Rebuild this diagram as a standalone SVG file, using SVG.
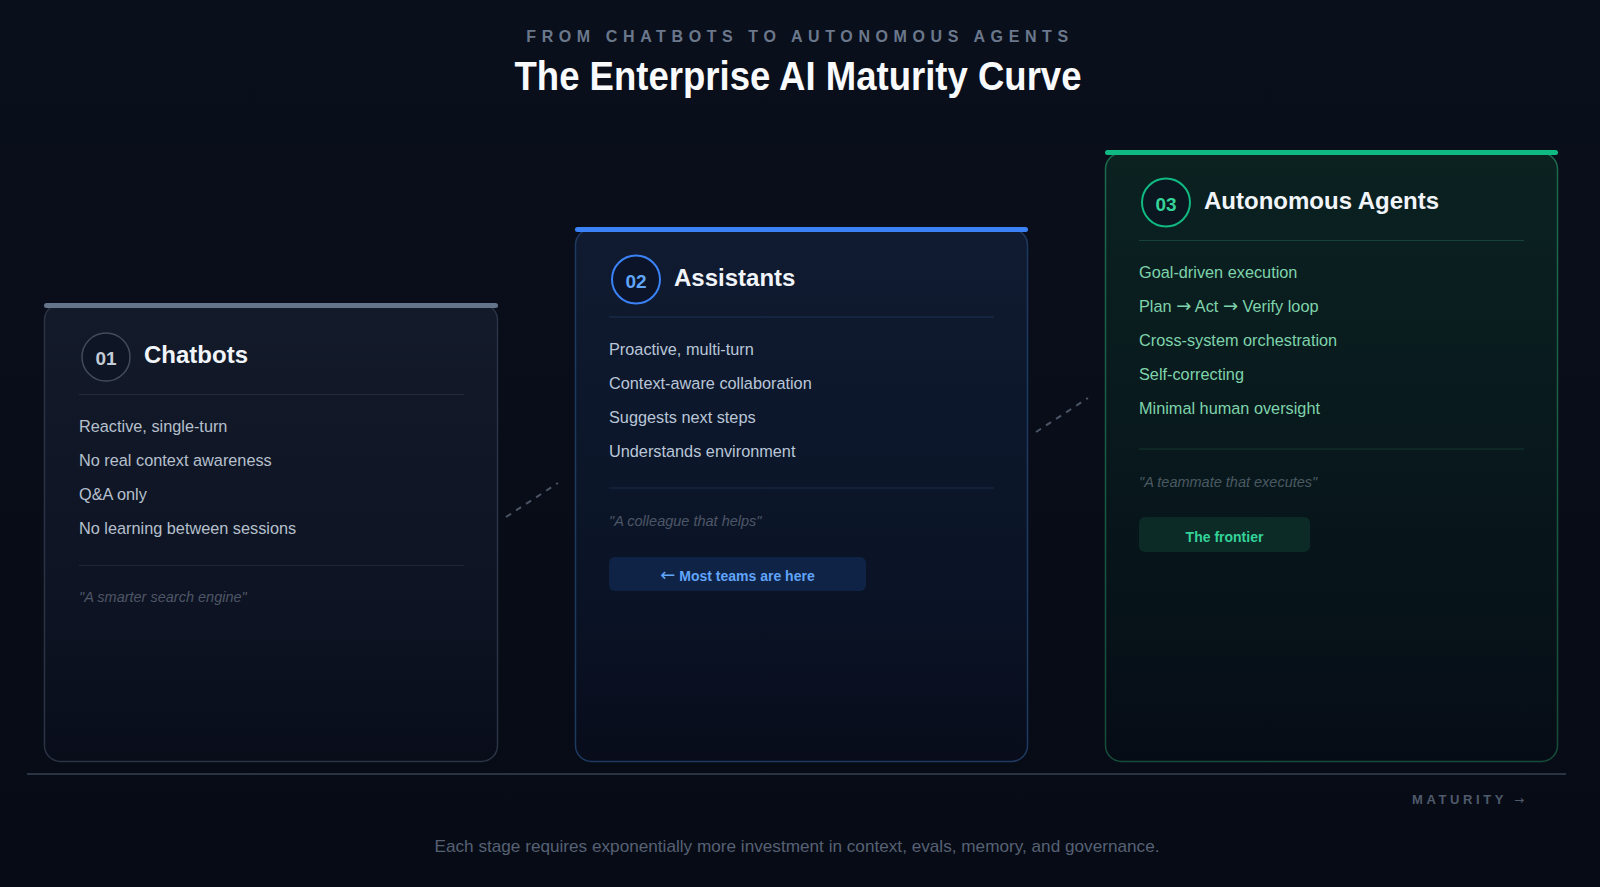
<svg xmlns="http://www.w3.org/2000/svg" width="1600" height="887" viewBox="0 0 1600 887">
<defs>
<linearGradient id="bg" x1="0" y1="0" x2="0" y2="1">
<stop offset="0" stop-color="#0a0f1c"/>
<stop offset="1" stop-color="#070b15"/>
</linearGradient>
<linearGradient id="g1" x1="0" y1="0" x2="0" y2="1">
<stop offset="0" stop-color="#131a2a"/>
<stop offset="0.7" stop-color="#0d1322"/>
<stop offset="1" stop-color="#090d1a"/>
</linearGradient>
<linearGradient id="g2" x1="0" y1="0" x2="0" y2="1">
<stop offset="0" stop-color="#101b31"/>
<stop offset="0.72" stop-color="#0a1325"/>
<stop offset="1" stop-color="#080c1b"/>
</linearGradient>
<linearGradient id="g3" x1="0" y1="0" x2="0" y2="1">
<stop offset="0" stop-color="#0b2221"/>
<stop offset="0.7" stop-color="#07141a"/>
<stop offset="1" stop-color="#060c16"/>
</linearGradient>
<linearGradient id="b3" x1="0" y1="0" x2="0" y2="1">
<stop offset="0" stop-color="#1a6a4b"/>
<stop offset="1" stop-color="#164c3a"/>
</linearGradient>
<style>
.h{font-family:"Liberation Sans",Arial,sans-serif;font-weight:bold;font-size:24px;fill:#f1f5f9}
.num{font-family:"Liberation Sans",Arial,sans-serif;font-weight:bold;font-size:19px;text-anchor:middle}
.it{font-family:"Liberation Sans",Arial,sans-serif;font-size:16.3px}
.ar{font-family:"DejaVu Sans",sans-serif;font-size:18px;font-weight:normal}
.q{font-family:"Liberation Sans",Arial,sans-serif;font-style:italic;font-size:14.5px}
.btn{font-family:"Liberation Sans",Arial,sans-serif;font-weight:bold;font-size:14px;text-anchor:middle}
.dash{stroke:#4b5566;stroke-width:2;stroke-dasharray:6 6;fill:none}
</style>
</defs>
<rect width="1600" height="887" fill="url(#bg)"/>

<g id="header">
<text x="800" y="42" text-anchor="middle" font-family="Liberation Sans, Arial, sans-serif" font-weight="bold" font-size="16" letter-spacing="5.6" fill="#6b788c">FROM CHATBOTS TO AUTONOMOUS AGENTS</text>
<text x="798" y="90" text-anchor="middle" font-family="Liberation Sans, Arial, sans-serif" font-weight="bold" font-size="40" textLength="567" lengthAdjust="spacingAndGlyphs" fill="#f8fafc">The Enterprise AI Maturity Curve</text>
</g>

<g id="connectors">
<line class="dash" x1="506" y1="517" x2="558" y2="483"/>
<line class="dash" x1="1036" y1="432" x2="1088" y2="398"/>
</g>

<g id="stage1">
<rect x="44.5" y="304" width="453" height="457.5" rx="16" fill="url(#g1)" stroke="#2b3344" stroke-width="1.5"/>
<rect x="44" y="303" width="454" height="5" rx="2.5" fill="#64748b"/>
<circle cx="106" cy="357" r="24" fill="#0e1524" stroke="#414b5c" stroke-width="1.5"/>
<text class="num" x="106" y="365" fill="#c3cbd6">01</text>
<text class="h" x="144" y="363">Chatbots</text>
<line x1="79" y1="394.5" x2="464" y2="394.5" stroke="#232b3a" stroke-width="1"/>
<g class="it" fill="#b6c0cd">
<text x="79" y="432">Reactive, single-turn</text>
<text x="79" y="466">No real context awareness</text>
<text x="79" y="500">Q&amp;A only</text>
<text x="79" y="534">No learning between sessions</text>
</g>
<line x1="79" y1="565.5" x2="464" y2="565.5" stroke="#1f2735" stroke-width="1"/>
<text class="q" x="79" y="602" fill="#4d5666">"A smarter search engine"</text>
</g>

<g id="stage2">
<rect x="575.5" y="229" width="452" height="532.5" rx="16" fill="url(#g2)" stroke="#1f3a61" stroke-width="1.5"/>
<rect x="575" y="227" width="453" height="5" rx="2.5" fill="#3b82f6"/>
<circle cx="636" cy="279.5" r="24" fill="#0b1428" stroke="#3b82f6" stroke-width="2"/>
<text class="num" x="636" y="288" fill="#60a5fa">02</text>
<text class="h" x="674" y="286">Assistants</text>
<line x1="609" y1="317" x2="994" y2="317" stroke="#1c3050" stroke-width="1"/>
<g class="it" fill="#b9c6d8">
<text x="609" y="355">Proactive, multi-turn</text>
<text x="609" y="389">Context-aware collaboration</text>
<text x="609" y="423">Suggests next steps</text>
<text x="609" y="457">Understands environment</text>
</g>
<line x1="609" y1="488" x2="994" y2="488" stroke="#1a2c48" stroke-width="1"/>
<text class="q" x="609" y="526" fill="#4d5666">"A colleague that helps"</text>
<rect x="609" y="557" width="257" height="34" rx="6" fill="#0f2346"/>
<text class="btn" x="737.5" y="581" fill="#60a5fa"><tspan class="ar" font-size="16">←</tspan> Most teams are here</text>
</g>

<g id="stage3">
<rect x="1105.5" y="153" width="452" height="608.5" rx="16" fill="url(#g3)" stroke="url(#b3)" stroke-width="1.5"/>
<rect x="1105" y="150" width="453" height="5" rx="2.5" fill="#10b981"/>
<circle cx="1166" cy="202.5" r="24" fill="#0a1720" stroke="#10b981" stroke-width="2"/>
<text class="num" x="1166" y="211" fill="#34d399">03</text>
<text class="h" x="1204" y="209">Autonomous Agents</text>
<line x1="1139" y1="240.5" x2="1524" y2="240.5" stroke="#164238" stroke-width="1"/>
<g class="it" fill="#7fd3ab">
<text x="1139" y="278">Goal-driven execution</text>
<text x="1139" y="312">Plan <tspan class="ar">→</tspan> Act <tspan class="ar">→</tspan> Verify loop</text>
<text x="1139" y="346">Cross-system orchestration</text>
<text x="1139" y="380">Self-correcting</text>
<text x="1139" y="414">Minimal human oversight</text>
</g>
<line x1="1139" y1="449" x2="1524" y2="449" stroke="#15382f" stroke-width="1"/>
<text class="q" x="1139" y="487" fill="#4a5a62">"A teammate that executes"</text>
<rect x="1139" y="517" width="171" height="35" rx="6" fill="#0c2b27"/>
<text class="btn" x="1224.5" y="541.5" fill="#34d399">The frontier</text>
</g>

<g id="axis">
<line x1="27" y1="774" x2="1566" y2="774" stroke="#2b3444" stroke-width="2"/>
<text x="1412" y="804" font-family="Liberation Sans, Arial, sans-serif" font-weight="bold" font-size="13" letter-spacing="3.6" fill="#4f5a6b">MATURITY <tspan font-family="DejaVu Sans, sans-serif" font-weight="normal" font-size="12">→</tspan></text>
<text x="797" y="852" text-anchor="middle" font-family="Liberation Sans, Arial, sans-serif" font-size="17" textLength="725" lengthAdjust="spacingAndGlyphs" fill="#566174">Each stage requires exponentially more investment in context, evals, memory, and governance.</text>
</g>
</svg>
